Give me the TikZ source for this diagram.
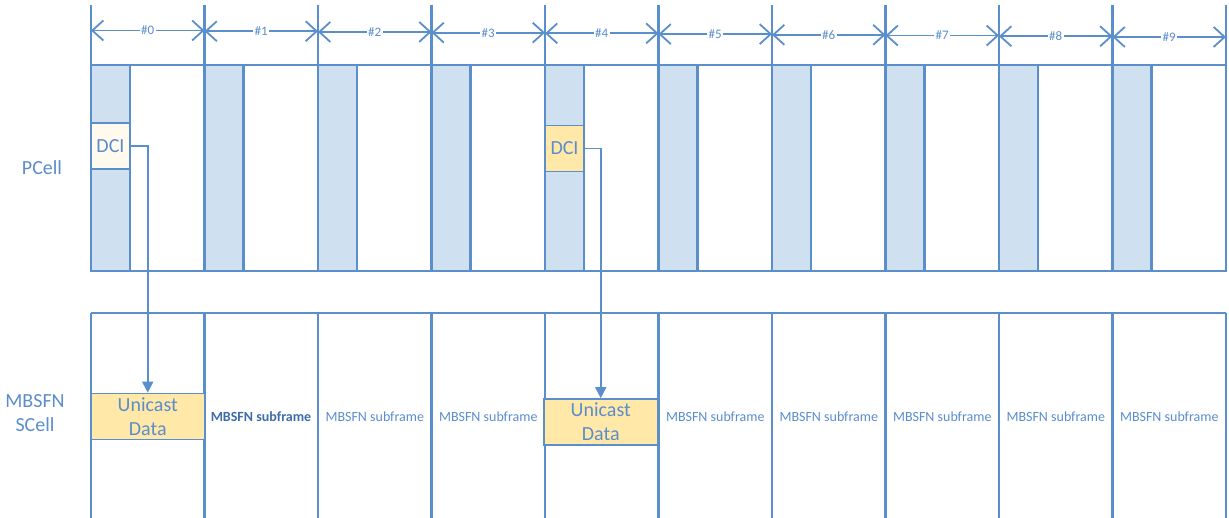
\documentclass[tikz,border=0pt]{standalone}
\usepackage{fontspec}
\setmainfont{Carlito}
\usepackage{tikz}
\usetikzlibrary{positioning, arrows.meta, calc}

\definecolor{lineblue}{RGB}{91,143,204}
\definecolor{textblue}{RGB}{91,141,204}
\definecolor{darkblue}{RGB}{62,108,168}
\definecolor{ctrlfill}{RGB}{207,224,241}
\definecolor{datafill}{RGB}{255,232,168}
\definecolor{creamfill}{RGB}{255,249,238}

\begin{document}
\begin{tikzpicture}[
        x=1pt, y=-1pt,
        >={Triangle[length=11pt, width=11pt]},
        ctrl/.style={draw=lineblue, line width=2.2pt, fill=ctrlfill, rectangle, minimum width=39pt, minimum height=206pt, inner sep=0pt},
        frame/.style={draw=lineblue, line width=2.2pt, rectangle, minimum width=1135pt, minimum height=206pt, inner sep=0pt},
        dci/.style={draw=lineblue, line width=1.6pt, rectangle, minimum width=39pt, minimum height=46pt, inner sep=0pt, text=textblue, font=\fontsize{20}{24}\selectfont},
        data/.style={draw=lineblue, line width=1.6pt, fill=datafill, rectangle, minimum width=113.5pt, minimum height=46pt, inner sep=0pt, align=center, text=textblue, font=\fontsize{20}{24}\selectfont},
        sub/.style={text=textblue, font=\fontsize{14}{16}\selectfont},
        cell/.style={text=textblue, align=center, font=\fontsize{20}{24}\selectfont},
        tick/.style={draw=lineblue, line width=2.2pt},
        dim/.style={draw=lineblue, line width=1.8pt, {Straight Barb[length=11pt, width=20pt]}-{Straight Barb[length=11pt, width=20pt]}},
        lbl/.style={fill=white, inner sep=1.5pt, text=textblue, font=\fontsize{13}{15}\selectfont},
        link/.style={->, draw=lineblue, line width=1.7pt}
        ]
        \useasboundingbox (0,0) rectangle (1229,518);

        % PCell frame and control regions
        \node[frame] (pframe) at (658.5, 168) {};
        \foreach \i in {0,...,9}
            \node[ctrl] (ctrl\i) at ({91+113.5*\i+19.5}, 168) {};

        % Subframe ticks and numbering
        \foreach \i in {0,...,10}
            \draw[tick] ({91+113.5*\i}, 5) -- ({91+113.5*\i}, 65);
        \foreach \i in {0,...,9}
            \draw[dim] ({91+113.5*\i}, {30.5+0.72*\i}) -- node[lbl] {\#\i} ({91+113.5*(\i+1)}, {30.5+0.72*\i});

        % SCell grid
        \draw[tick] (91, 313) -- (1226, 313);
        \foreach \i in {0,...,10}
            \draw[tick] ({91+113.5*\i}, 313) -- ({91+113.5*\i}, 518);

        % Row labels
        \node[cell] (pcell) at (42, 168) {PCell};
        \node[cell] (scell) at (35, 413) {MBSFN\\SCell};

        % DCI and unicast data
        \node[dci, fill=creamfill] (dci0) at (110.5, 146) {DCI};
        \node[dci, fill=datafill] (dci4) at (564.5, 148.5) {DCI};
        \node[data] (uc0) at (147.75, 416.5) {Unicast\\Data};
        \node[data] (uc4) at (600.75, 422) {Unicast\\Data};

        % MBSFN subframes
        \node[sub, text=darkblue] (mb1) at (261, 417) {\textbf{MBSFN subframe}};
        \foreach \i in {2,3,5,6,7,8,9}
            \node[sub] (mb\i) at ({91+113.5*\i+56.75}, 417) {MBSFN subframe};

        % Scheduling arrows
        \draw[link] (dci0.east) -| (uc0.north);
        \draw[link] (dci4.east) -| (uc4.north);

    \end{tikzpicture}
\end{document}
